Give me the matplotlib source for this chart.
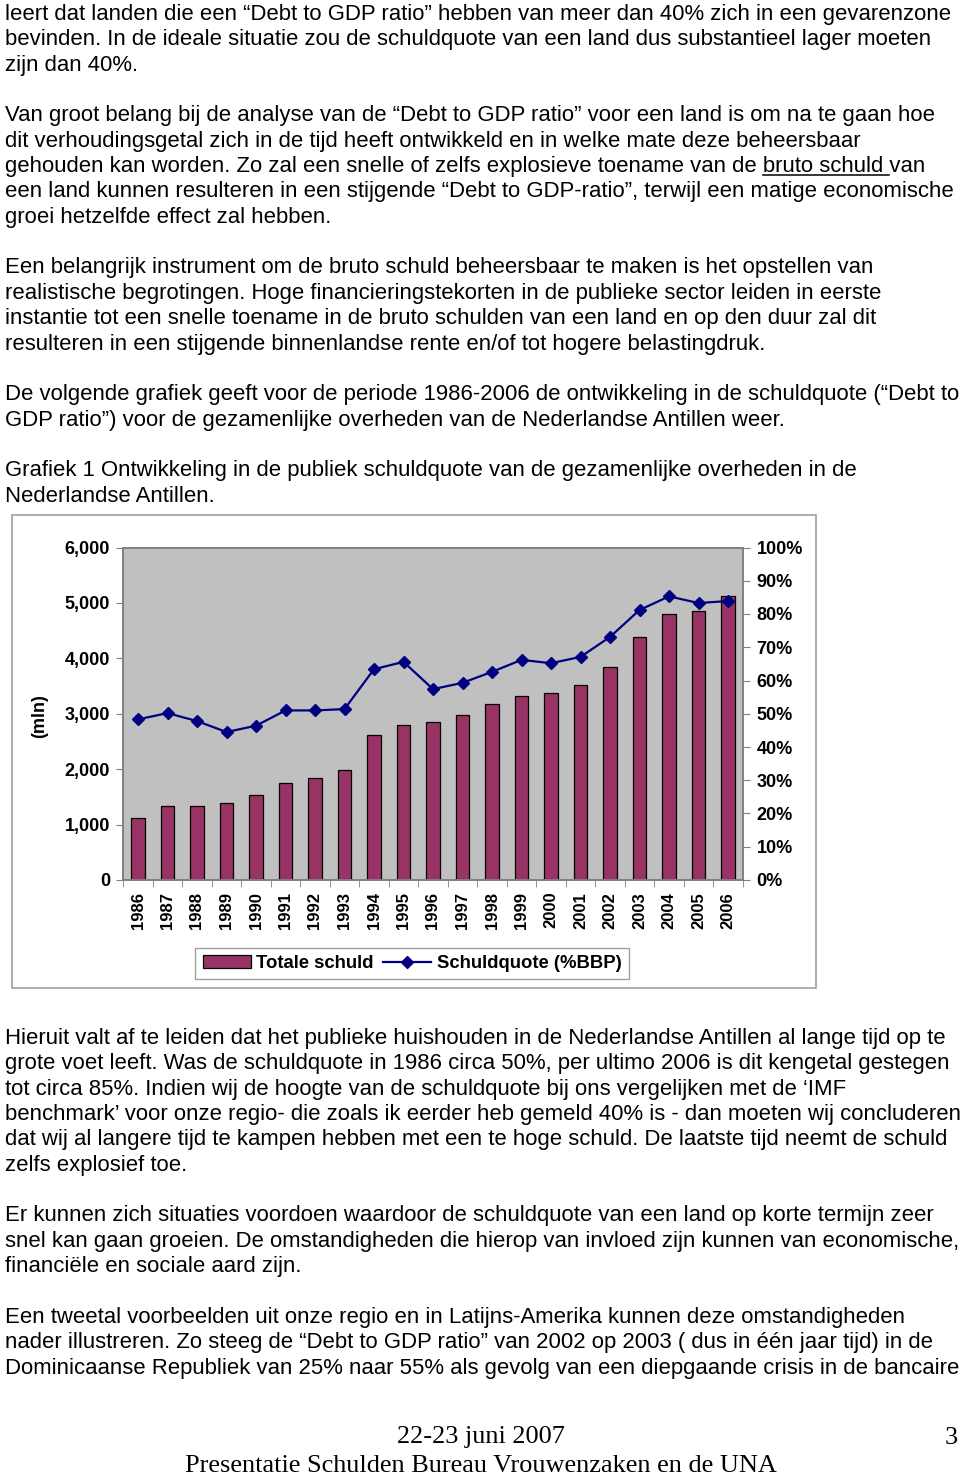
import matplotlib
matplotlib.use("Agg")
import matplotlib.pyplot as plt
from matplotlib.patches import Rectangle
from matplotlib.lines import Line2D
from matplotlib.ticker import FixedLocator, FuncFormatter
import numpy as np

# ---------------- data ----------------
years = [str(y) for y in range(1986, 2007)]
totale_schuld = [1115, 1327, 1327, 1382, 1527, 1758, 1848, 1988, 2624, 2794,
                 2855, 2970, 3170, 3315, 3376, 3515, 3835, 4390, 4797, 4857, 5122]
schuldquote = [48.3, 50.2, 47.8, 44.5, 46.4, 51.0, 51.0, 51.4, 63.4, 65.6,
               57.4, 59.3, 62.6, 66.2, 65.2, 67.1, 73.1, 81.2, 85.3, 83.3, 83.9]
left_ticks = [0, 1000, 2000, 3000, 4000, 5000, 6000]
right_ticks = [0, 10, 20, 30, 40, 50, 60, 70, 80, 90, 100]

para_top = [
    "leert dat landen die een “Debt to GDP ratio” hebben van meer dan 40% zich in een gevarenzone",
    "bevinden. In de ideale situatie zou de schuldquote van een land dus substantieel lager moeten",
    "zijn dan 40%.",
    None,
    "Van groot belang bij de analyse van de “Debt to GDP ratio” voor een land is om na te gaan hoe",
    "dit verhoudingsgetal zich in de tijd heeft ontwikkeld en in welke mate deze beheersbaar",
    "gehouden kan worden. Zo zal een snelle of zelfs explosieve toename van de bruto schuld van",
    "een land kunnen resulteren in een stijgende “Debt to GDP-ratio”, terwijl een matige economische",
    "groei hetzelfde effect zal hebben.",
    None,
    "Een belangrijk instrument om de bruto schuld beheersbaar te maken is het opstellen van",
    "realistische begrotingen. Hoge financieringstekorten in de publieke sector leiden in eerste",
    "instantie tot een snelle toename in de bruto schulden van een land en op den duur zal dit",
    "resulteren in een stijgende binnenlandse rente en/of tot hogere belastingdruk.",
    None,
    "De volgende grafiek geeft voor de periode 1986-2006 de ontwikkeling in de schuldquote (“Debt to",
    "GDP ratio”) voor de gezamenlijke overheden van de Nederlandse Antillen weer.",
    None,
    "Grafiek 1 Ontwikkeling in de publiek schuldquote van de gezamenlijke overheden in de",
    "Nederlandse Antillen.",
]
para_bottom = [
    "Hieruit valt af te leiden dat het publieke huishouden in de Nederlandse Antillen al lange tijd op te",
    "grote voet leeft. Was de schuldquote in 1986 circa 50%, per ultimo 2006 is dit kengetal gestegen",
    "tot circa 85%. Indien wij de hoogte van de schuldquote bij ons vergelijken met de ‘IMF",
    "benchmark’ voor onze regio- die zoals ik eerder heb gemeld 40% is - dan moeten wij concluderen",
    "dat wij al langere tijd te kampen hebben met een te hoge schuld. De laatste tijd neemt de schuld",
    "zelfs explosief toe.",
    None,
    "Er kunnen zich situaties voordoen waardoor de schuldquote van een land op korte termijn zeer",
    "snel kan gaan groeien. De omstandigheden die hierop van invloed zijn kunnen van economische,",
    "financiële en sociale aard zijn.",
    None,
    "Een tweetal voorbeelden uit onze regio en in Latijns-Amerika kunnen deze omstandigheden",
    "nader illustreren. Zo steeg de “Debt to GDP ratio” van 2002 op 2003 ( dus in één jaar tijd) in de",
    "Dominicaanse Republiek van 25% naar 55% als gevolg van een diepgaande crisis in de bancaire",
]
footer_date = "22-23 juni 2007"
footer_title = "Presentatie Schulden Bureau Vrouwenzaken en de UNA"
page_no = "3"

# ---------------- layout ----------------
W, H = 960, 1478
fig = plt.figure(figsize=(W / 100, H / 100), dpi=100)
fig.patch.set_facecolor("white")

def fx(px):
    return px / W

def fy(py):
    return 1 - py / H

body_font = "Liberation Sans"
body_size = 15.95
pitch = 25.35

def write_block(lines, y0):
    y = y0
    for ln in lines:
        if ln is not None:
            fig.text(fx(5), fy(y), ln, fontsize=body_size, family=body_font,
                     va="center_baseline", ha="left", color="black")
        y += pitch

write_block(para_top, 12)
write_block(para_bottom, 1036)

# underline for "bruto schuld " in line 7
fig.canvas.draw()
renderer = fig.canvas.get_renderer()
prefix = "gehouden kan worden. Zo zal een snelle of zelfs explosieve toename van de "
underl = "bruto schuld "
tmp1 = fig.text(0, 0, prefix, fontsize=body_size, family=body_font)
tmp2 = fig.text(0, 0, prefix + underl, fontsize=body_size, family=body_font)
w1 = tmp1.get_window_extent(renderer).width
w2 = tmp2.get_window_extent(renderer).width
tmp1.remove(); tmp2.remove()
uy = 12 + 6 * pitch + 11
fig.add_artist(Line2D([fx(5 + w1), fx(5 + w2)], [fy(uy), fy(uy)],
                      color="black", lw=1.1, transform=fig.transFigure))

# footer
serif_size = 18.9
fig.text(fx(481), fy(1435), footer_date, fontsize=serif_size, family="Liberation Serif",
         ha="center", va="center_baseline")
fig.text(fx(481), fy(1463), footer_title, fontsize=serif_size, family="Liberation Serif",
         ha="center", va="center_baseline")
fig.text(fx(958), fy(1435), page_no, fontsize=serif_size, family="Liberation Serif",
         ha="right", va="center_baseline")

# chart outer frame
fig.add_artist(Rectangle((fx(12), fy(988)), fx(816) - fx(12), fy(515) - fy(988),
                         transform=fig.transFigure, fill=False,
                         edgecolor="#a0a0a0", lw=1.2))

# ---------------- chart ----------------
px_l, px_r, px_t, px_b = 123.25, 742.75, 547.5, 880.0
ax = fig.add_axes([fx(px_l), fy(px_b), fx(px_r) - fx(px_l), fy(px_t) - fy(px_b)])
ax.set_facecolor("#c0c0c0")
for s in ax.spines.values():
    s.set_color("#808080")
    s.set_linewidth(1.2)

x = np.arange(len(years))
bar_col = "#993366"
ax.bar(x, totale_schuld, width=0.45, color=bar_col, edgecolor="black", linewidth=0.9,
       label="Totale schuld", zorder=2)
ax.set_xlim(-0.5, len(years) - 0.5)
ax.set_ylim(0, 6000)
ax.yaxis.set_major_locator(FixedLocator(left_ticks))
ax.yaxis.set_major_formatter(FuncFormatter(lambda v, p: f"{int(v):,}"))
ax.tick_params(axis="y", which="major", length=5, color="#808080", pad=4.5,
               labelsize=13.0)
for lab in ax.get_yticklabels():
    lab.set_fontweight("bold")
    lab.set_family("Liberation Sans")

ax.set_xticks(x)
ax.set_xticklabels(years, rotation=90, fontsize=12, fontweight="bold",
                   family="Liberation Sans")
ax.tick_params(axis="x", which="major", length=0, pad=8.5)
ax.set_xticks(np.arange(-0.5, len(years), 1.0), minor=True)
ax.tick_params(axis="x", which="minor", length=5, color="#808080")

ax2 = ax.twinx()
ax2.plot(x, schuldquote, color="#000080", lw=1.6, marker="D", markersize=6.5,
         markerfacecolor="#000080", markeredgecolor="#000080",
         label="Schuldquote (%BBP)", zorder=3)
ax2.set_ylim(0, 100)
ax2.yaxis.set_major_locator(FixedLocator(right_ticks))
ax2.yaxis.set_major_formatter(FuncFormatter(lambda v, p: f"{int(v)}%"))
ax2.tick_params(axis="y", length=5, color="#808080", pad=5.0, labelsize=13.0)
for lab in ax2.get_yticklabels():
    lab.set_fontweight("bold")
    lab.set_family("Liberation Sans")
for s in ax2.spines.values():
    s.set_color("#808080")
    s.set_linewidth(1.2)

fig.text(fx(40), fy(716), "(mln)", rotation=90, fontsize=13.0, fontweight="bold",
         family="Liberation Sans", ha="center", va="center")

# legend
h1, l1 = ax.get_legend_handles_labels()
h2, l2 = ax2.get_legend_handles_labels()
leg = fig.legend(h1 + h2, l1 + l2, loc="center", ncol=2,
                 bbox_to_anchor=(fx(412), fy(963.5)),
                 prop={"family": "Liberation Sans", "weight": "bold", "size": 13.3},
                 frameon=True, fancybox=False, framealpha=1, edgecolor="#a0a0a0",
                 handlelength=2.6, handletextpad=0.3, columnspacing=0.5,
                 borderpad=0.4, handleheight=0.7)
leg.get_frame().set_linewidth(1.0)

fig.savefig("out.png", dpi=100, facecolor="white")
